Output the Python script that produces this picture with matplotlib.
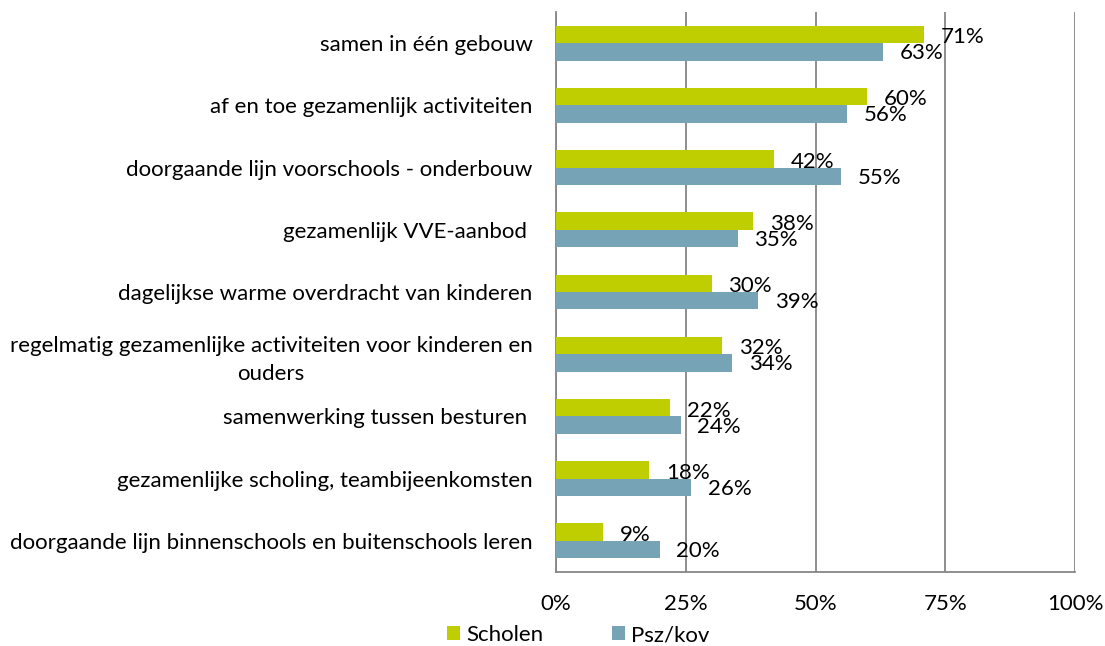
import matplotlib
matplotlib.use("Agg")
import matplotlib.pyplot as plt
import numpy as np
from matplotlib.patches import Patch

categories = [
    "samen in één gebouw",
    "af en toe gezamenlijk activiteiten",
    "doorgaande lijn voorschools - onderbouw",
    "gezamenlijk VVE-aanbod ",
    "dagelijkse warme overdracht van kinderen",
    "regelmatig gezamenlijke activiteiten voor kinderen en\nouders",
    "samenwerking tussen besturen ",
    "gezamenlijke scholing, teambijeenkomsten",
    "doorgaande lijn binnenschools en buitenschools leren",
]
scholen = [71, 60, 42, 38, 30, 32, 22, 18, 9]
pszkov = [63, 56, 55, 35, 39, 34, 24, 26, 20]
series_names = ["Scholen", "Psz/kov"]
xticks = [0, 25, 50, 75, 100]
xticklabels = ["0%", "25%", "50%", "75%", "100%"]

green = "#BFCE00"
blue = "#77A3B6"
gray = "#868686"

plt.rcParams['font.family'] = ['Lato', 'DejaVu Sans']

fig = plt.figure(figsize=(11.05, 6.46), dpi=100)
ax = fig.add_axes([556/1105, 74/646, (1075-556)/1105, (572-12)/646])

y = np.arange(len(categories))
h = 0.28
ax.barh(y - h/2, scholen, height=h, color=green, zorder=3)
ax.barh(y + h/2, pszkov, height=h, color=blue, zorder=3)

fs = 16
for yi, v in zip(y, scholen):
    ax.annotate(f"{v}%", (v, yi - h/2), xytext=(12, -2), textcoords="offset points",
                va="center", ha="left", fontsize=fs, color="black", zorder=4)
for yi, v in zip(y, pszkov):
    ax.annotate(f"{v}%", (v, yi + h/2), xytext=(12, -1), textcoords="offset points",
                va="center", ha="left", fontsize=fs, color="black", zorder=4)

ax.set_xlim(0, 100)
ax.set_ylim(len(categories) - 0.5, -0.5)
ax.set_xticks(xticks)
ax.set_xticklabels(xticklabels, fontsize=fs)
ax.tick_params(axis="both", length=0)
ax.set_yticks(y)
ax.set_yticklabels(categories, fontsize=fs, multialignment="center", linespacing=1.5)
ax.tick_params(axis="x", pad=16)
ax.tick_params(axis="y", pad=17)

ax.grid(axis="x", color=gray, linewidth=1.3, zorder=1)
for s in ["top", "right"]:
    ax.spines[s].set_visible(False)
for s in ["left", "bottom"]:
    ax.spines[s].set_color(gray)
    ax.spines[s].set_linewidth(1.3)

handles = [Patch(facecolor=green, label=series_names[0]),
           Patch(facecolor=blue, label=series_names[1])]
fig.legend(handles=handles, loc="center", bbox_to_anchor=(578/1105, 1 - 635/646),
           ncol=2, frameon=False, fontsize=fs, handlelength=0.6, handleheight=0.6,
           handletextpad=0.25, columnspacing=3.1)

fig.savefig("out.png", dpi=100)
